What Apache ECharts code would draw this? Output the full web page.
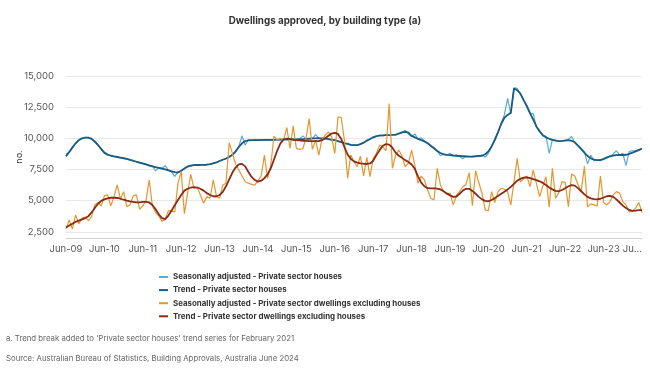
<!DOCTYPE html>
<html>
<head>
<meta charset="utf-8">
<script src="https://cdn.jsdelivr.net/npm/echarts@6/dist/echarts.min.js"></script>
<style>
html,body{margin:0;padding:0;background:#fff;}
#chart{width:650px;height:374px;}
</style>
</head>
<body>
<div id="chart"></div>
<script>
// Month categories Jun-09 .. Jun-24
const monthNames = ['Jan','Feb','Mar','Apr','May','Jun','Jul','Aug','Sep','Oct','Nov','Dec'];
const categories = [];
for (let y = 2009, m = 5; y < 2024 || (y === 2024 && m <= 5); ) {
  categories.push(monthNames[m] + '-' + String(y % 100).padStart(2, '0'));
  m++; if (m > 11) { m = 0; y++; }
}

const yTicks = [2500, 5000, 7500, 10000, 12500, 15000];

const saHouses = [
  8750, 8850, 9300, 9550, 9900, 9980, 10080, 10020, 9980, 9720, 9480, 9100,
  8800, 8650, 8620, 8520, 8530, 8420, 8410, 8330, 8290, 8180, 8130, 8020,
  7950, 7920, 7780, 7800, 7380, 7650, 7600, 7800, 7450, 7300, 6950, 7300,
  7350, 7600, 7780, 7750, 7900, 7820, 7880, 7850, 7920, 7880, 8020, 8050,
  8200, 8300, 8350, 8550, 8650, 8900, 9350, 10200, 9450, 9900, 9800, 9880,
  9850, 9900, 9830, 9880, 9850, 9920, 9860, 9880, 9950, 9870, 9900, 9950,
  9900, 9950, 10200, 9950, 9900, 9980, 10300, 10000, 9950, 10050, 9950, 9900,
  9900, 9750, 9720, 9600, 9580, 9450, 9480, 9420, 9550, 9620, 9850, 9920,
  10100, 10150, 10250, 10200, 10280, 10220, 10300, 10250, 10400, 10450, 10650, 10350,
  10150, 10350, 9950, 10050, 9800, 9650, 9350, 9250, 9000, 8600, 8750, 8650,
  8800, 8600, 8650, 8550, 8350, 8600, 8550, 8500, 8600, 8520, 8650, 8500,
  8800, 9350, 10000, 10450, 11200, 11900, 13200, 11950, 14050, 14000, 13550, 13100,
  12500, 11950, 12000, 10900, 10650, 10200, 10150, 8800, 9900, 9850, 9750, 9800,
  9850, 9900, 10150, 9650, 9400, 9100, 8900, 7950, 8650, 8200, 8250, 8200,
  8300, 8500, 8550, 8750, 9000, 8650, 8800, 7800, 8950, 9000, 9000, 9100,
  9150
];

const trendHouses = [
  8550, 8900, 9250, 9600, 9850, 10000, 10060, 10050, 9950, 9750, 9450, 9150,
  8850, 8700, 8600, 8550, 8500, 8450, 8400, 8350, 8270, 8200, 8120, 8050,
  7980, 7900, 7820, 7750, 7680, 7620, 7560, 7500, 7420, 7350, 7280, 7250,
  7400, 7580, 7720, 7800, 7850, 7860, 7860, 7870, 7880, 7920, 7980, 8060,
  8180, 8280, 8380, 8500, 8680, 8950, 9300, 9600, 9780, 9840, 9850, 9850,
  9860, 9860, 9870, 9870, 9880, 9880, 9890, 9900, 9900, 9910, 9920, 9920,
  9920, 9930, 9940, 9950, 9970, 9990, 10000, 10010, 10000, 9980, 9940, 9880,
  9850, 9780, 9700, 9620, 9550, 9480, 9450, 9460, 9530, 9650, 9800, 9950,
  10080, 10180, 10220, 10240, 10250, 10260, 10270, 10300, 10380, 10480, 10520, 10450,
  10200, 10080, 9950, 9850, 9750, 9600, 9400, 9200, 8980, 8820, 8720, 8670,
  8650, 8620, 8600, 8580, 8560, 8540, 8530, 8540, 8560, 8590, 8600, 8720,
  8950, 9350, 9860, 10500, 11150, 11650, 11880, 12050, 14000, 13860, 13590, 13060,
  12600, 12050, 11500, 10950, 10550, 10250, 10080, 9960, 9870, 9810, 9780, 9790,
  9820, 9860, 9800, 9680, 9420, 9150, 8850, 8580, 8390, 8290, 8250, 8260,
  8350, 8450, 8560, 8620, 8650, 8660, 8660, 8680, 8750, 8850, 8950, 9050,
  9180
];

const saDwellings = [
  2710, 3455, 2710, 3855, 3135, 3590, 3670, 3400, 3720, 4655, 4840, 4575,
  5375, 5455, 4575, 5300, 6255, 5110, 5720, 4520, 4655, 5375, 5455, 4310,
  4575, 5000, 6655, 4575, 4040, 3775, 3320, 3510, 4200, 4150, 4100, 6400,
  7350, 3950, 5600, 7100, 5990, 6070, 5455, 4790, 5320, 5190, 6655, 5375,
  5190, 6255, 6390, 9640, 8790, 7935, 7455, 6975, 6520, 6400, 6300, 6250,
  6600, 6975, 8655, 6790, 7855, 10175, 9855, 9990, 9855, 10870, 9190, 10975,
  9190, 9110, 9160, 9990, 11590, 9110, 9855, 8655, 9910, 10255, 10520, 10120,
  8790, 11720, 11670, 9855, 6790, 8655, 8120, 7720, 8575, 6975, 8470, 6920,
  8390, 8790, 9455, 9320, 9000, 12790, 7590, 8655, 9055, 8575, 7700, 8000,
  9055, 7855, 6390, 6975, 6655, 5855, 5190, 5055, 7590, 6255, 5720, 5500,
  5600, 4655, 5400, 5750, 6100, 6300, 7250, 4600, 7400, 6450, 5590, 4250,
  4200, 5720, 4850, 5700, 5990, 5910, 5700, 4655, 6500, 8390, 6500, 6750,
  6975, 6120, 7455, 6390, 5320, 6175, 6920, 4470, 7590, 5190, 5640, 6520,
  6440, 4520, 7135, 6975, 6300, 5720, 7750, 4500, 4735, 4655, 4575, 6975,
  4840, 4655, 4920, 5455, 5720, 5600, 4920, 4655, 4100, 4150, 4400, 4850,
  4050
];

const trendDwellings = [
  2850, 3000, 3150, 3300, 3400, 3500, 3600, 3750, 4050, 4400, 4750, 4980,
  5100, 5180, 5230, 5240, 5210, 5150, 5070, 5000, 4940, 4890, 4860, 4860,
  4900, 4900, 4850, 4650, 4300, 3900, 3600, 3520, 3800, 4200, 4650, 5050,
  5450, 5800, 5950, 6050, 6080, 6050, 5950, 5800, 5600, 5450, 5350, 5330,
  5450, 5700, 6150, 6700, 7250, 7650, 7900, 7950, 7750, 7300, 6900, 6650,
  6520, 6600, 6800, 7100, 7600, 8300, 9000, 9600, 9900, 9980, 9950, 9880,
  9850, 9830, 9800, 9790, 9780, 9770, 9770, 9780, 9850, 10000, 10200, 10380,
  10440, 10350, 9950, 9300, 8700, 8350, 8150, 8050, 7990, 7960, 7940, 7980,
  8200, 8650, 9050, 9400, 9530, 9500, 9250, 8850, 8600, 8430, 8250, 8100,
  7900, 7550, 6950, 6450, 6150, 6000, 5980, 5980, 5970, 5900, 5750, 5580,
  5420, 5300, 5330, 5550, 5800, 5950, 5950, 5780, 5550, 5300, 5100, 4980,
  4950, 5050, 5200, 5380, 5550, 5720, 5900, 6100, 6350, 6600, 6750, 6850,
  6870, 6800, 6720, 6650, 6550, 6420, 6250, 6050, 5900, 5780, 5750, 5850,
  6000, 6150, 6250, 6200, 6000, 5750, 5500, 5300, 5180, 5120, 5100, 5150,
  5250, 5350, 5380, 5300, 5100, 4850, 4600, 4400, 4250, 4180, 4200, 4230,
  4240
];

const seriesNames = [
  'Seasonally adjusted - Private sector houses',
  'Trend - Private sector houses',
  'Seasonally adjusted - Private sector dwellings excluding houses',
  'Trend - Private sector dwellings excluding houses'
];
const colors = ['#5aaad8', '#1c5b80', '#e3972f', '#8c2a18'];
const FONT = 'Inter, "Open Sans", sans-serif';

const chart = echarts.init(document.getElementById('chart'), null, {renderer: 'canvas'});
chart.setOption({
  animation: false,
  textStyle: {fontFamily: FONT},
  title: {
    text: 'Dwellings approved, by building type (a)',
    left: 'center', top: 11,
    textStyle: {fontSize: 9.8, fontWeight: 'bold', color: '#333', fontFamily: FONT}
  },
  grid: {left: 66, right: 8, top: 76, bottom: 136},
  legend: {
    orient: 'vertical', left: 159, top: 271.5, padding: 0,
    icon: 'rect', itemWidth: 9, itemHeight: 2, itemGap: 2.1,
    textStyle: {fontSize: 7.9, fontWeight: 'bold', color: '#333', lineHeight: 11, fontFamily: FONT},
    data: seriesNames
  },
  xAxis: {
    type: 'category', data: categories, boundaryGap: false,
    axisLine: {lineStyle: {color: '#d0d0d0'}},
    axisTick: {show: false},
    axisLabel: {
      interval: 11, color: '#555', fontSize: 9.5, margin: 6,
      showMaxLabel: true, alignMaxLabel: 'right',
      formatter: (v, i) => i === categories.length - 1 ? v.slice(0, 2) + '...' : v
    }
  },
  yAxis: {
    type: 'value', min: 2000, max: 15000,
    name: 'no.', nameLocation: 'middle', nameGap: 42, nameRotate: 90,
    nameMoveOverlap: false,
    nameTextStyle: {fontSize: 9, color: '#333', fontFamily: FONT},
    axisLine: {show: false},
    axisTick: {show: false, customValues: yTicks},
    axisLabel: {
      customValues: yTicks, color: '#555', fontSize: 9.5, margin: 12,
      formatter: v => v.toLocaleString('en-US')
    },
    splitLine: {lineStyle: {color: '#e8e8e8'}}
  },
  graphic: [
    {type: 'text', left: 6, top: 335, style: {text: "a. Trend break added to 'Private sector houses' trend series for February 2021", fontSize: 7.8, fill: '#666', fontFamily: FONT}},
    {type: 'text', left: 6, top: 355, style: {text: 'Source: Australian Bureau of Statistics, Building Approvals, Australia June 2024', fontSize: 7.8, fill: '#666', fontFamily: FONT}}
  ],
  series: [
    {name: seriesNames[0], type: 'line', data: saHouses, showSymbol: false, lineStyle: {width: 1.2, color: colors[0]}, itemStyle: {color: colors[0]}},
    {name: seriesNames[1], type: 'line', data: trendHouses, showSymbol: false, lineStyle: {width: 1.8, color: colors[1]}, itemStyle: {color: colors[1]}},
    {name: seriesNames[2], type: 'line', data: saDwellings, showSymbol: false, lineStyle: {width: 1.2, color: colors[2]}, itemStyle: {color: colors[2]}},
    {name: seriesNames[3], type: 'line', data: trendDwellings, showSymbol: false, lineStyle: {width: 1.8, color: colors[3]}, itemStyle: {color: colors[3]}}
  ]
});
</script>
</body>
</html>
